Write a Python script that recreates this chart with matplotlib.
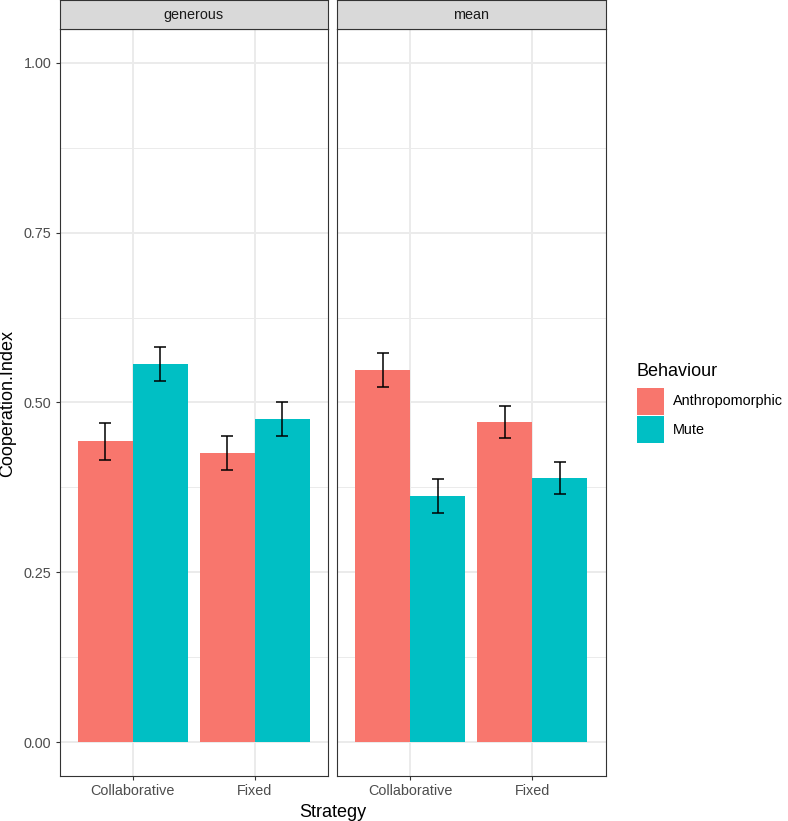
import numpy as np
import matplotlib
matplotlib.use('Agg')
import matplotlib.pyplot as plt
from matplotlib.patches import Rectangle

plt.rcParams['font.family'] = ['Liberation Sans', 'DejaVu Sans']

# data
strategies = ['Collaborative', 'Fixed']
behaviours = ['Anthropomorphic', 'Mute']
facets = ['generous', 'mean']
colors = ['#F8766D', '#00BFC4']

generous_anthro = [0.443, 0.426]
generous_anthro_se = [0.027, 0.025]
generous_mute = [0.557, 0.476]
generous_mute_se = [0.025, 0.025]
mean_anthro = [0.548, 0.471]
mean_anthro_se = [0.025, 0.024]
mean_mute = [0.363, 0.389]
mean_mute_se = [0.025, 0.024]

values = {'generous': (generous_anthro, generous_mute),
          'mean': (mean_anthro, mean_mute)}
errors = {'generous': (generous_anthro_se, generous_mute_se),
          'mean': (mean_anthro_se, mean_mute_se)}

W, H = 788, 821
fig = plt.figure(figsize=(W / 100, H / 100), dpi=100)

def box(x0, y0, x1, y1):
    # pixel box (top-left origin) -> figure fraction rect
    return [x0 / W, 1 - y1 / H, (x1 - x0) / W, (y1 - y0) / H]

panel_x = [(59.5, 328), (337, 605.5)]
panel_top, panel_bot = 29, 776

x = np.arange(1, len(strategies) + 1)
bw = 0.45
for i, f in enumerate(facets):
    x0, x1 = panel_x[i]
    ax = fig.add_axes(box(x0, panel_top, x1, panel_bot))
    ax.set_xlim(0.4, 2.6)
    ax.set_ylim(-0.05, 1.05)
    ax.set_axisbelow(True)
    ax.set_yticks([0, 0.25, 0.5, 0.75, 1.0])
    ax.set_yticks([0.125, 0.375, 0.625, 0.875], minor=True)
    ax.grid(True, which='major', color='#EBEBEB', linewidth=1.4)
    ax.grid(True, which='minor', axis='y', color='#EBEBEB', linewidth=0.7)
    ax.set_xticks(x)
    ax.set_xticklabels(strategies)
    for j in range(2):
        xs = x + (j - 0.5) * bw
        ax.bar(xs, values[f][j], width=bw, color=colors[j], zorder=2)
        ax.errorbar(xs, values[f][j], yerr=errors[f][j], fmt='none', ecolor='black',
                    elinewidth=1.1, capsize=4.3, capthick=1.1, zorder=3)
    ax.tick_params(which='major', length=3.2, width=0.8, color='#333333',
                   labelcolor='#4D4D4D', labelsize=10.4, pad=2.6)
    ax.tick_params(which='minor', length=0)
    for s in ax.spines.values():
        s.set_color('#333333')
        s.set_linewidth(0.8)
    if i == 0:
        ax.set_yticklabels(['0.00', '0.25', '0.50', '0.75', '1.00'])
    else:
        ax.tick_params(axis='y', which='both', left=False, labelleft=False)

    # facet strip
    sax = fig.add_axes(box(x0, 0.5, x1, panel_top))
    sax.set_facecolor('#D9D9D9')
    sax.set_xticks([])
    sax.set_yticks([])
    for s in sax.spines.values():
        s.set_color('#333333')
        s.set_linewidth(0.8)
    sax.text(0.5, 0.5, f, ha='center', va='center', fontsize=10.4, color='#1A1A1A',
             transform=sax.transAxes)

# axis titles
fig.text(8 / W, 1 - 403 / H, 'Cooperation.Index', rotation=90, ha='center', va='center',
         fontsize=13)
fig.text(332.5 / W, 1 - 812 / H, 'Strategy', ha='center', va='center', fontsize=13)

# legend
fig.text(637 / W, 1 - 371 / H, 'Behaviour', ha='left', va='center', fontsize=13)
key_y = [388, 416.5]
for j, b in enumerate(behaviours):
    fig.add_artist(Rectangle((637 / W, 1 - (key_y[j] + 27) / H), 27 / W, 27 / H,
                             transform=fig.transFigure, facecolor=colors[j], edgecolor='none'))
    fig.text(673 / W, 1 - (key_y[j] + 13.5) / H, b, ha='left', va='center', fontsize=10.4)

fig.savefig('out.png', dpi=100)
